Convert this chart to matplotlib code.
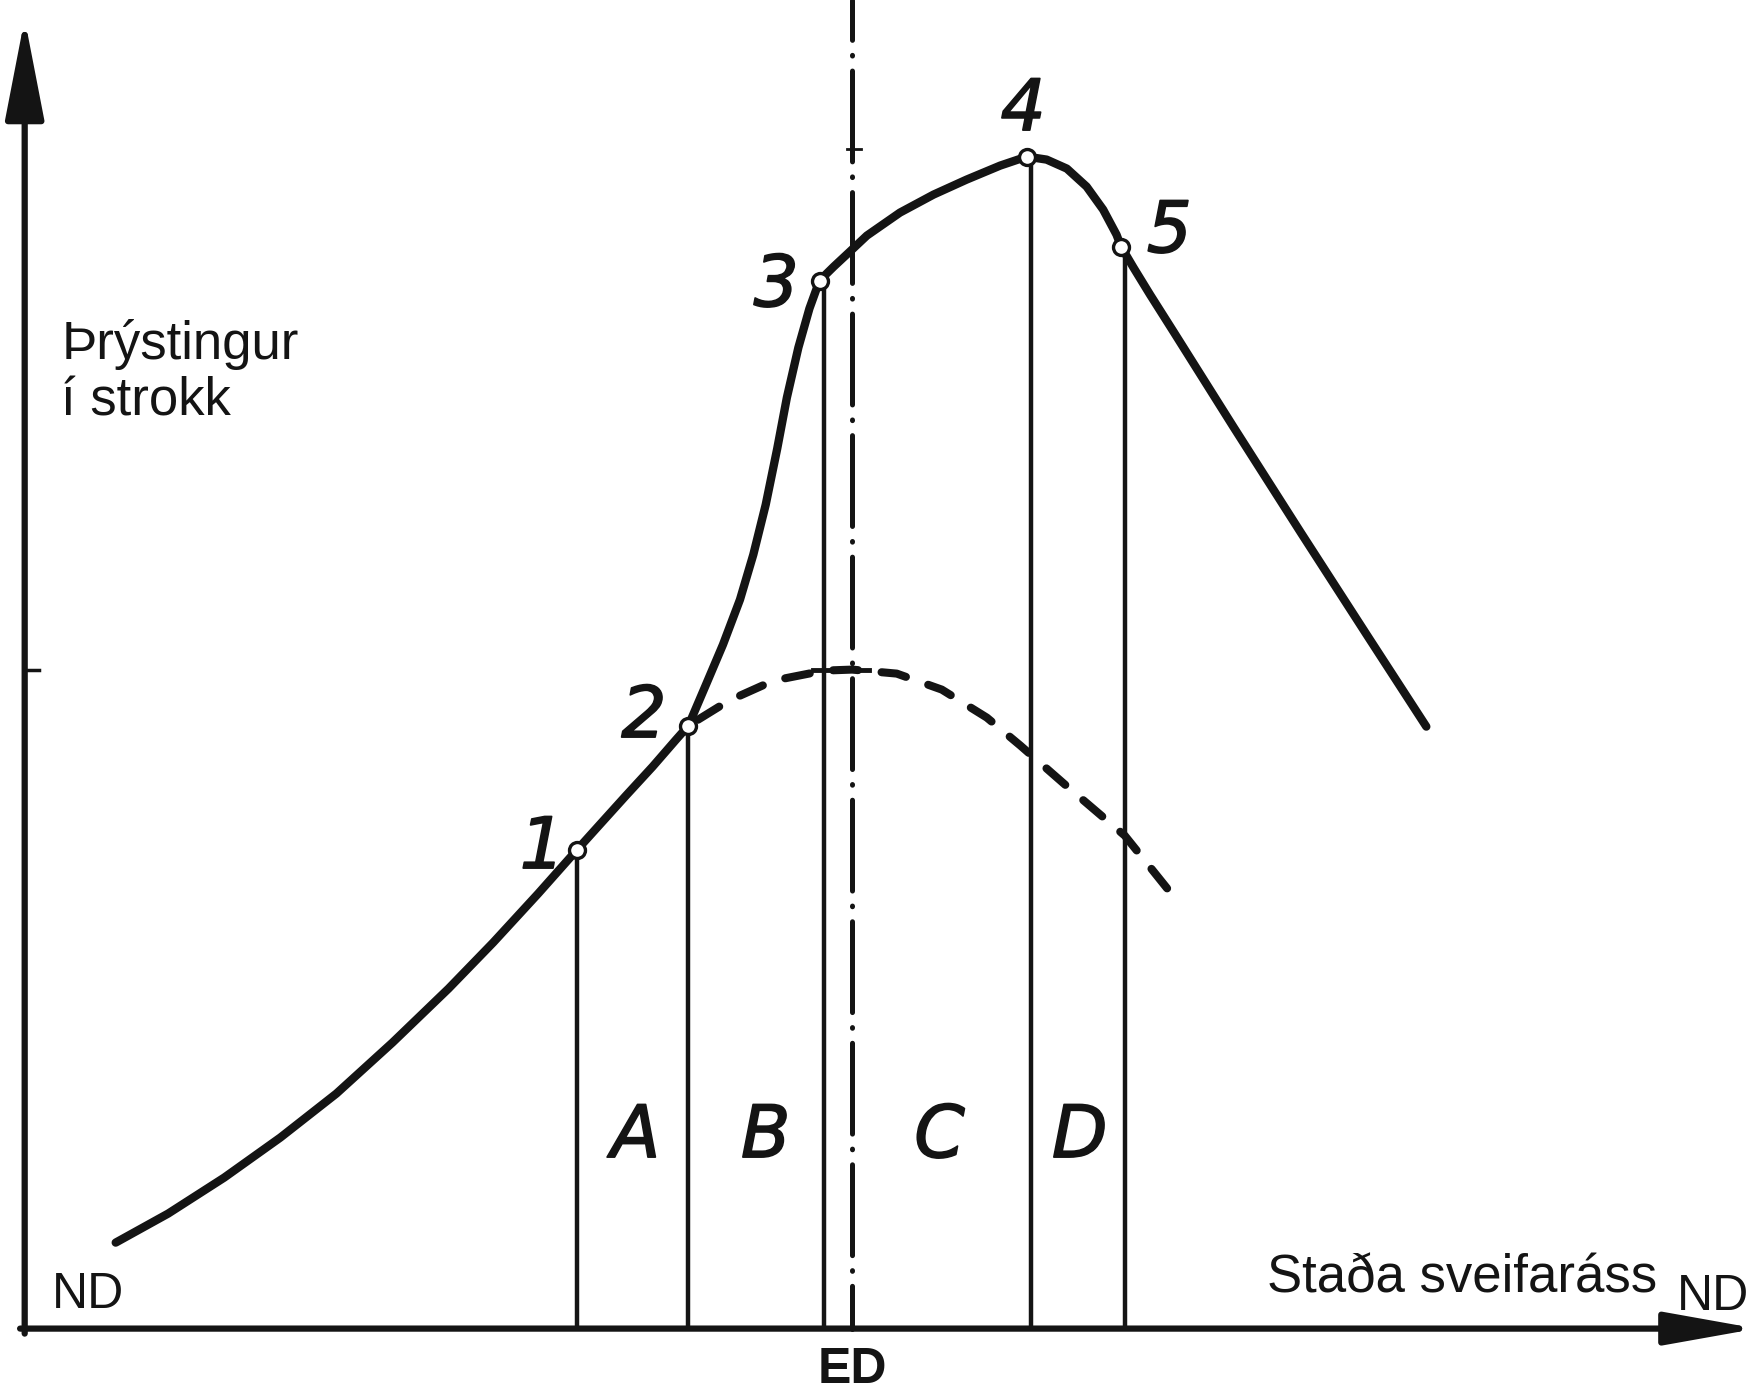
"""
Þrýstingur í strokk sem fall af stöðu sveifaráss (ND - ED - ND).
Brunaferlið skipt í svæðin A-D milli punktanna 1-5; brotalínan
sýnir þjöppunarþrýsting án bruna.
"""

import matplotlib.pyplot as plt
import matplotlib.patheffects as pe

plt.rcParams['font.family'] = ['Liberation Sans', 'DejaVu Sans']
plt.rcParams['lines.scale_dashes'] = False

# Sveifarhorn í gráðum (0 = ND, 180 = ED, 360 = ND), þrýstingur í óháðum einingum
curve_deg = [19.8, 31.2, 43.4, 55.6, 67.8, 80.0, 92.2, 101.9, 111.7, 120.2,
             125.1, 130.8, 136.6, 141.7, 144.4, 148.3, 151.9, 155.6, 158.5,
             161.2, 163.7, 165.8, 168.3, 170.7, 172.9,
             176.0, 179.5, 183.2, 190.4, 197.7, 204.9, 212.2, 218.0, 222.3,
             226.7, 231.0, 234.6, 237.5, 238.5, 241.2, 244.8, 249.9, 262.9,
             277.6, 292.2, 304.9]
curve_p = [8.6, 11.5, 15.1, 19.1, 23.5, 28.6, 34.0, 38.6, 43.5, 47.9,
           50.4, 53.3, 56.2, 58.9, 60.3, 64.5, 68.4, 72.9, 77.4,
           82.4, 88.0, 93.1, 98.1, 102.0, 104.8,
           106.2, 107.7, 109.3, 111.6, 113.4, 114.9, 116.3, 117.2, 116.9,
           116.0, 114.2, 111.9, 109.4, 108.2, 106.1, 103.4, 99.7, 90.2,
           79.6, 69.2, 60.2]

# Þjöppun án bruna (brotalína)
motored_deg = [144.4, 153.2, 162.9, 173.9, 180.0, 189.7, 199.5, 209.3,
               216.6, 226.3, 239.3, 251.0]
motored_p = [60.3, 62.8, 64.8, 65.8, 65.9, 65.5, 63.9, 61.1,
             58.3, 54.4, 49.3, 42.6]

# Punktar 1-5 og lóðréttu línurnar niður á ás
point_names = ['1', '2', '3', '4', '5']
point_deg = [120.2, 144.4, 172.9, 218.0, 238.5]
point_p = [47.9, 60.3, 104.8, 117.2, 108.2]
drop_deg = [120.2, 144.4, 173.9, 219.0, 239.3]
name_deg = [112.6, 134.7, 163.5, 217.2, 249.0]
name_p = [48.0, 61.1, 104.2, 121.8, 109.6]

# Svæðin A-D
zone_names = ['A', 'B', 'C', 'D']
zone_deg = [132.9, 161.2, 199.0, 229.5]
zone_p = 19.1

ed_deg = 180.0
p_compression_max = 65.9
p_max_mark = 118.0

x_min, x_max = -5.37, 377.05
p_min, p_max = -6.54, 132.86
x_tip, p_tip = 376.8, 131.0

fig = plt.figure(figsize=(17.58, 13.94), dpi=100)
ax = fig.add_axes([0, 0, 1, 1])
ax.set_xlim(x_min, x_max)
ax.set_ylim(p_min, p_max)
ax.axis('off')

ink = '#141414'

# ásar með örvum
ax.annotate('', xy=(0, p_tip), xytext=(0, -0.5),
            arrowprops=dict(arrowstyle='-|>,head_length=0.62,head_width=0.12',
                            mutation_scale=100, lw=4.5, color=ink,
                            shrinkA=0, shrinkB=0))
ax.annotate('', xy=(x_tip, 0), xytext=(-1.0, 0),
            arrowprops=dict(arrowstyle='-|>,head_length=0.56,head_width=0.10',
                            mutation_scale=100, lw=4.5, color=ink,
                            shrinkA=0, shrinkB=0))

# ED miðlína (strik-punktur)
ax.plot([ed_deg, ed_deg], [p_max, 0], color=ink, lw=3.6,
        ls=(36.7, (65.4, 10.8, 0.5, 10.8)), dash_capstyle='round',
        solid_capstyle='round')
ax.plot([ed_deg - 1.2, ed_deg + 2.0], [p_max_mark, p_max_mark], color=ink, lw=2)

# merki fyrir hámark þjöppunar
ax.plot([0, 3.2], [p_compression_max, p_compression_max], color=ink, lw=2.5)
ax.plot([171.5, 183.7], [p_compression_max, p_compression_max], color=ink, lw=3.5)

# lóðréttar línur frá punktum niður á ás
for xd, yp in zip(drop_deg, point_p):
    ax.plot([xd, xd], [0, yp], color=ink, lw=3.2, solid_capstyle='butt')

ax.plot(motored_deg, motored_p, color=ink, lw=5.8,
        ls=(27, (18, 17)), dash_capstyle='round')
ax.plot(curve_deg, curve_p, color=ink, lw=6, solid_capstyle='round',
        solid_joinstyle='round')
ax.plot(point_deg, point_p, 'o', ms=11.5, mfc='white', mec=ink, mew=2.4,
        zorder=5)

# handskrifuð merki, örlítið þykkari strik
bold_ink = [pe.withStroke(linewidth=1.2, foreground=ink)]
for name, xd, yp in zip(point_names, name_deg, name_p):
    ax.text(xd, yp, name, fontsize=51, style='oblique', family='DejaVu Sans',
            ha='center', va='center', color=ink, path_effects=bold_ink)
for name, xd in zip(zone_names, zone_deg):
    ax.text(xd, zone_p, name, fontsize=52, style='oblique', family='DejaVu Sans',
            ha='center', va='center', color=ink, path_effects=bold_ink)

ax.text(8.0, 98.4, 'Þrýstingur', fontsize=38, ha='left', va='center', color=ink)
ax.text(8.0, 92.7, 'í strokk', fontsize=38, ha='left', va='center', color=ink)
ax.text(5.9, 3.36, 'ND', fontsize=36, ha='left', va='center', color=ink)
ax.text(270.2, 5.04, 'Staða sveifaráss', fontsize=38, ha='left', va='center',
        color=ink)
ax.text(359.3, 3.14, 'ND', fontsize=36, ha='left', va='center', color=ink)
ax.text(ed_deg, -4.15, 'ED', fontsize=36, fontweight='bold', ha='center',
        va='center', color=ink)

fig.savefig('out.png', dpi=100, facecolor='white')
